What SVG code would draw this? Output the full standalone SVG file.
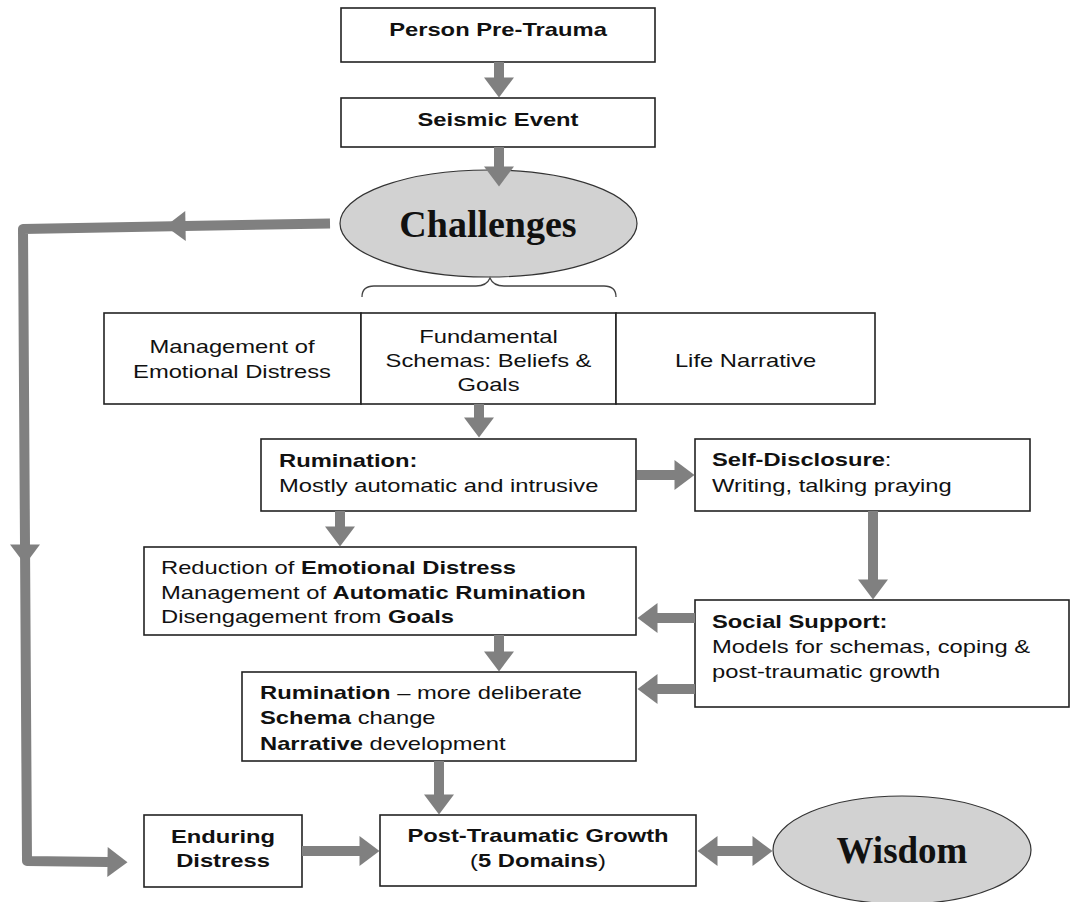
<svg xmlns="http://www.w3.org/2000/svg" width="1073" height="902" viewBox="0 0 1073 902">
<style>
.box{fill:#fff;stroke:#222;stroke-width:1.6}
.ell{fill:#d2d2d2;stroke:#333;stroke-width:1.2}
.t{font-family:"Liberation Sans",Arial,sans-serif;font-size:19px;fill:#111}
.c{text-anchor:middle}
.b{font-weight:bold}
.serif{font-family:"Liberation Serif","Times New Roman",serif;font-weight:bold;fill:#111;text-anchor:middle}
.ln{fill:none;stroke:#808080;stroke-width:10;stroke-linejoin:round}
.brace{fill:none;stroke:#444;stroke-width:1.3}
</style>
<defs>
<marker id="ah" markerUnits="userSpaceOnUse" markerWidth="22" markerHeight="32" refX="0.5" refY="15" orient="auto-start-reverse" overflow="visible">
<path d="M0,0 L20,15 L0,30 z" fill="#808080"/>
</marker>
</defs>

<g id="person-pre-trauma">
<rect class="box" x="341" y="8" width="314" height="54"/>
<text class="t c b" transform="translate(498,36) scale(1.25,1)">Person Pre-Trauma</text>
</g>

<g id="seismic-event">
<rect class="box" x="341" y="98" width="314" height="49"/>
<text class="t c b" transform="translate(498,126) scale(1.25,1)">Seismic Event</text>
</g>

<g id="challenges">
<ellipse class="ell" cx="488.5" cy="223.5" rx="148.5" ry="53.5"/>
<text class="serif" x="488" y="237" font-size="38">Challenges</text>
<path class="brace" d="M362,297 C362,290 366,286 374,286 L476,286 C484,286 488,283 490,278 C492,283 496,286 504,286 L604,286 C612,286 616,290 616,297"/>
</g>

<g id="management-emotional-distress">
<rect class="box" x="104" y="313" width="257" height="91"/>
<text class="t c" transform="translate(232,353) scale(1.25,1)"><tspan x="0" y="0">Management of</tspan><tspan x="0" y="25">Emotional Distress</tspan></text>
</g>

<g id="fundamental-schemas">
<rect class="box" x="361" y="313" width="255" height="91"/>
<text class="t c" transform="translate(488.5,343) scale(1.25,1)"><tspan x="0" y="0">Fundamental</tspan><tspan x="0" y="24">Schemas: Beliefs &amp;</tspan><tspan x="0" y="48">Goals</tspan></text>
</g>

<g id="life-narrative">
<rect class="box" x="616" y="313" width="259" height="91"/>
<text class="t c" transform="translate(745.5,367) scale(1.25,1)">Life Narrative</text>
</g>

<g id="rumination-automatic">
<rect class="box" x="261" y="439" width="375" height="72"/>
<text class="t" transform="translate(279,467) scale(1.25,1)"><tspan x="0" y="0" class="b">Rumination:</tspan><tspan x="0" y="25">Mostly automatic and intrusive</tspan></text>
</g>

<g id="self-disclosure">
<rect class="box" x="695" y="439" width="335" height="72"/>
<text class="t" transform="translate(712,466) scale(1.25,1)"><tspan x="0" y="0"><tspan class="b">Self-Disclosure</tspan>:</tspan><tspan x="0" y="26">Writing, talking praying</tspan></text>
</g>

<g id="reduction">
<rect class="box" x="144" y="547" width="492" height="88"/>
<text class="t" transform="translate(161,574) scale(1.25,1)"><tspan x="0" y="0">Reduction of <tspan class="b">Emotional Distress</tspan></tspan><tspan x="0" y="25">Management of <tspan class="b">Automatic Rumination</tspan></tspan><tspan x="0" y="49">Disengagement from <tspan class="b">Goals</tspan></tspan></text>
</g>

<g id="social-support">
<rect class="box" x="695" y="600" width="374" height="107"/>
<text class="t" transform="translate(712,628) scale(1.25,1)"><tspan x="0" y="0" class="b">Social Support:</tspan><tspan x="0" y="25">Models for schemas, coping &amp;</tspan><tspan x="0" y="50">post-traumatic growth</tspan></text>
</g>

<g id="rumination-deliberate">
<rect class="box" x="242" y="672" width="394" height="89"/>
<text class="t" transform="translate(260,699) scale(1.25,1)"><tspan x="0" y="0"><tspan class="b">Rumination</tspan> – more deliberate</tspan><tspan x="0" y="25"><tspan class="b">Schema</tspan> change</tspan><tspan x="0" y="51"><tspan class="b">Narrative</tspan> development</tspan></text>
</g>

<g id="enduring-distress">
<rect class="box" x="144" y="815" width="158" height="72"/>
<text class="t c b" transform="translate(223,843) scale(1.25,1)"><tspan x="0" y="0">Enduring</tspan><tspan x="0" y="24">Distress</tspan></text>
</g>

<g id="post-traumatic-growth">
<rect class="box" x="380" y="815" width="316" height="71"/>
<text class="t c" transform="translate(538,842) scale(1.25,1)"><tspan x="0" y="0" class="b">Post-Traumatic Growth</tspan><tspan x="0" y="25">(<tspan class="b">5 Domains</tspan>)</tspan></text>
</g>

<g id="wisdom">
<ellipse class="ell" cx="902" cy="850" rx="129" ry="54"/>
<text class="serif" x="902" y="863" font-size="37">Wisdom</text>
</g>

<g id="connectors">
<line class="ln" x1="499" y1="62" x2="499" y2="78" marker-end="url(#ah)"/>
<line class="ln" x1="499" y1="147" x2="499" y2="167" marker-end="url(#ah)"/>
<path class="ln" d="M330,223.5 L185,226" marker-end="url(#ah)"/>
<path class="ln" d="M186,226 L23,229 L25,545" marker-end="url(#ah)"/>
<path class="ln" d="M25,544 L27,861 L108,862" marker-end="url(#ah)"/>
<line class="ln" x1="479" y1="404" x2="479" y2="418" marker-end="url(#ah)"/>
<line class="ln" x1="637" y1="475" x2="675" y2="475" marker-end="url(#ah)"/>
<line class="ln" x1="340" y1="511" x2="340" y2="527" marker-end="url(#ah)"/>
<line class="ln" x1="873" y1="511" x2="873" y2="580" marker-end="url(#ah)"/>
<line class="ln" x1="695" y1="618" x2="657" y2="618" marker-end="url(#ah)"/>
<line class="ln" x1="695" y1="689" x2="657" y2="689" marker-end="url(#ah)"/>
<line class="ln" x1="499" y1="635" x2="499" y2="652" marker-end="url(#ah)"/>
<line class="ln" x1="439" y1="761" x2="439" y2="795" marker-end="url(#ah)"/>
<line class="ln" x1="302" y1="851" x2="360" y2="851" marker-end="url(#ah)"/>
<line class="ln" x1="717" y1="851" x2="753" y2="851" marker-start="url(#ah)" marker-end="url(#ah)"/>
</g>
</svg>
